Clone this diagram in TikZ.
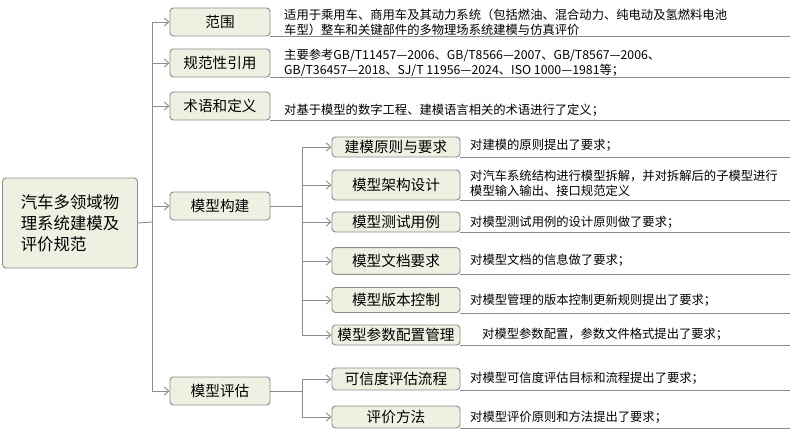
\documentclass[tikz,border=0pt]{standalone}
\usepackage{fontspec}
\setmainfont{Noto Sans CJK SC}
\usetikzlibrary{arrows.meta,positioning}
\definecolor{boxfill}{HTML}{EEF1E2}
\definecolor{boxline}{HTML}{8C8C8C}
\tikzset{
  topbox/.style={draw=boxline, fill=boxfill, rounded corners=3pt, thick,
    minimum width=3cm, minimum height=0.84cm, font=\fontsize{12.5}{14}\selectfont, inner sep=1pt},
  subbox/.style={topbox, minimum width=3.84cm, minimum height=0.6cm},
  desc/.style={anchor=west, align=left, font=\fontsize{10.5}{13}\selectfont, inner sep=0pt},
  link/.style={draw=boxline, thick, -{Straight Barb[length=4pt,width=7pt]}},
  uline/.style={draw=boxline, thick}
}
\begin{document}
\begin{tikzpicture}[x=0.03cm,y=-0.03cm]
  \useasboundingbox (0,0) rectangle (794,429);
  %% root
  \node[topbox, minimum width=4.05cm, minimum height=2.7cm, align=left,
    font=\fontsize{14}{18}\selectfont] (root) at (70,223) {汽车多领域物\\理系统建模及\\评价规范};

  %% first level
  \node[topbox] (scope) at (220,22) {范围};
  \node[topbox] (refs) at (220,63) {规范性引用};
  \node[topbox] (terms) at (220,106) {术语和定义};
  \node[topbox] (build) at (220,206) {模型构建};
  \node[topbox] (eval) at (220,391) {模型评估};

  %% second level
  \node[subbox] (rule) at (396,147) {建模原则与要求};
  \node[subbox, minimum height=0.9cm] (arch) at (396,185) {模型架构设计};
  \node[subbox] (test) at (396,222) {模型测试用例};
  \node[subbox, minimum height=0.8cm] (doc) at (396,261) {模型文档要求};
  \node[subbox, minimum height=0.75cm] (ver) at (396,300) {模型版本控制};
  \node[subbox] (param) at (396,335) {模型参数配置管理};
  \node[subbox, minimum height=0.66cm] (cred) at (396,379) {可信度评估流程};
  \node[subbox, minimum height=0.66cm] (method) at (396,417) {评价方法};

  %% descriptions
  \node[desc] (dscope) at (284,22) {适用于乘用车、商用车及其动力系统（包括燃油、混合动力、纯电动及氢燃料电池\\车型）整车和关键部件的多物理场系统建模与仿真评价};
  \node[desc] (drefs) at (284,63) {主要参考GB/T11457—2006、GB/T8566—2007、GB/T8567—2006、\\GB/T36457—2018、SJ/T 11956—2024、ISO 1000—1981等；};
  \node[desc] (dterms) at (284,110) {对基于模型的数字工程、建模语言相关的术语进行了定义；};
  \node[desc] (drule) at (470,145) {对建模的原则提出了要求；};
  \node[desc] (darch) at (470,183) {对汽车系统结构进行模型拆解，并对拆解后的子模型进行\\模型输入输出、接口规范定义};
  \node[desc] (dtest) at (470,222) {对模型测试用例的设计原则做了要求；};
  \node[desc] (ddoc) at (470,260) {对模型文档的信息做了要求；};
  \node[desc] (dver) at (470,300) {对模型管理的版本控制更新规则提出了要求；};
  \node[desc] (dparam) at (482,334) {对模型参数配置，参数文件格式提出了要求；};
  \node[desc] (dcred) at (470,378) {对模型可信度评估目标和流程提出了要求；};
  \node[desc] (dmethod) at (470,417) {对模型评价原则和方法提出了要求；};

  %% underlines
  \foreach \n in {scope,refs,terms,rule,arch,test,doc,ver,param,cred,method}
    \draw[uline] (\n.south east) -- (\n.south east -| 790,0);

  %% connectors
  \coordinate (trunk) at (152,222);
  \draw[uline] (root.east) -- (trunk);
  \draw[uline] (trunk |- scope) -- (trunk |- eval);
  \foreach \n in {scope,refs,terms,build,eval}
    \draw[link] (trunk |- \n) -- (\n.west);

  \coordinate (btrunk) at (302,206);
  \draw[uline] (build.east) -- (btrunk);
  \draw[uline] (btrunk |- rule) -- (btrunk |- param);
  \foreach \n in {rule,arch,test,doc,ver,param}
    \draw[link] (btrunk |- \n) -- (\n.west);

  \coordinate (etrunk) at (302,391);
  \draw[uline] (eval.east) -- (etrunk);
  \draw[uline] (etrunk |- cred) -- (etrunk |- method);
  \foreach \n in {cred,method}
    \draw[link] (etrunk |- \n) -- (\n.west);
\end{tikzpicture}
\end{document}
